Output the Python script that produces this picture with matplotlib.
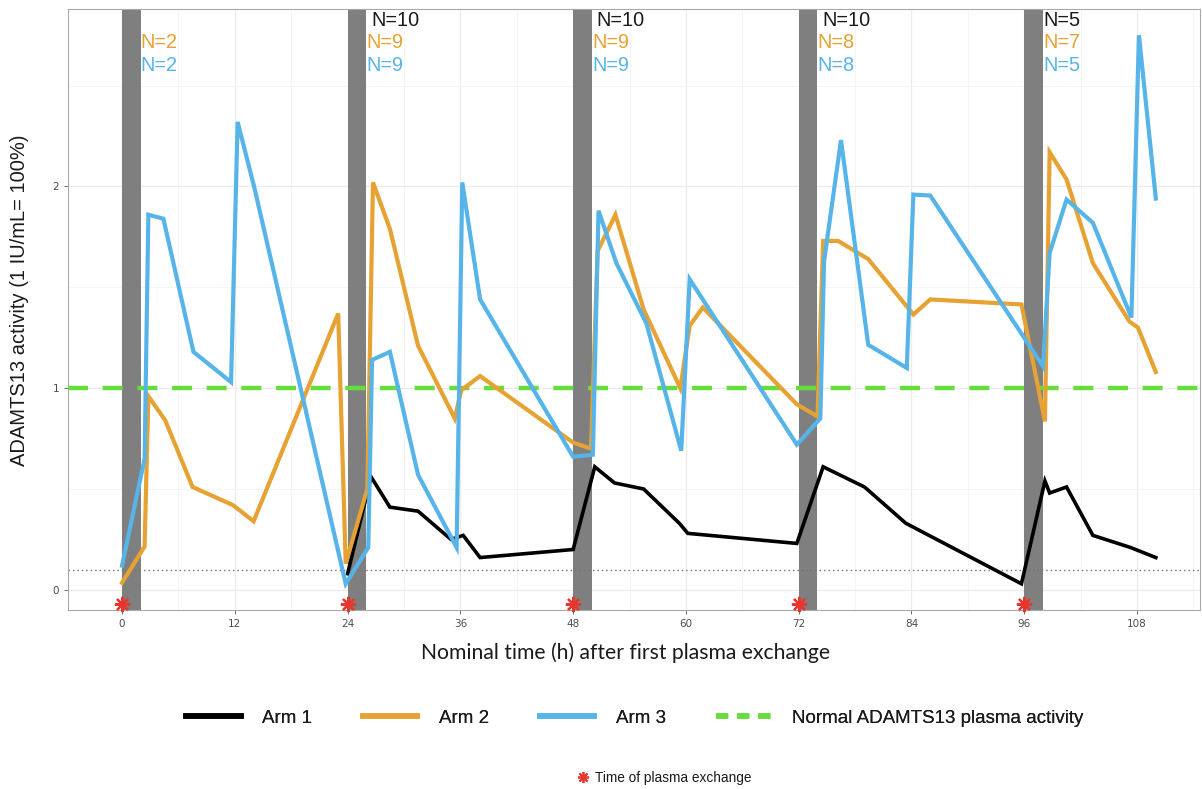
import matplotlib
matplotlib.use("Agg")  # no display
import matplotlib.pyplot as plt
from matplotlib.lines import Line2D

# colours
ARM_COLORS = {"arm1": "#000000", "arm2": "#E6A232", "arm3": "#56B4E9"}
GREEN = "#66DD3C"
RED = "#E8362C"
BAR_GREY = "#7F7F7F"

# plasma exchange times (h)
pe_times = [0, 24, 48, 72, 96]
pe_marker_y = [-0.07, -0.07, -0.07, -0.07, -0.07]

# Arm 1
arm1_t = [24, 26.5, 28.5, 31.5, 35, 36.3, 38.1, 48, 50.3, 52.4, 55.5, 59.3, 60.2,
          71.8, 74.6, 79, 83.4, 95.7, 98.2, 98.7, 100.5, 103.3, 107.3, 110]
arm1_v = [0.08, 0.56, 0.41, 0.39, 0.25, 0.27, 0.16, 0.20, 0.61, 0.53, 0.50, 0.33, 0.28,
          0.23, 0.61, 0.51, 0.33, 0.03, 0.54, 0.48, 0.51, 0.27, 0.21, 0.16]

# Arm 2
arm2_t = [0, 2.4, 2.8, 4.6, 7.5, 11.8, 14, 23, 23.8, 26.1, 26.7, 28.5, 31.5, 35.4,
          36.1, 38.1, 48, 49.9, 50.6, 52.5, 55.5, 59.4, 60.4, 61.8, 71.8, 74, 74.6,
          76.2, 79.4, 84.2, 86, 95.7, 98.2, 98.7, 100.5, 103.3, 107.2, 108.1, 110]
arm2_v = [0.035, 0.215, 0.96, 0.84, 0.51, 0.42, 0.34, 1.37, 0.13, 0.50, 2.02, 1.79,
          1.21, 0.85, 0.99, 1.06, 0.73, 0.70, 1.68, 1.86, 1.39, 1.00, 1.31, 1.40, 0.92,
          0.86, 1.73, 1.73, 1.64, 1.365, 1.44, 1.415, 0.835, 2.17, 2.035, 1.62, 1.33,
          1.30, 1.08]

# Arm 3
arm3_t = [0, 2.4, 2.8, 4.4, 7.6, 11.6, 12.3, 14.1, 23.8, 26.2, 26.6, 28.5, 31.5, 35.6,
          36.2, 38.1, 48, 50.1, 50.7, 52.6, 55.8, 59.5, 60.4, 71.8, 74.3, 74.7, 76.5,
          79.4, 83.5, 84.2, 86, 98.0, 98.7, 100.5, 103.3, 107.4, 108.2, 110]
arm3_v = [0.12, 0.65, 1.86, 1.84, 1.18, 1.03, 2.32, 1.99, 0.03, 0.21, 1.14, 1.18, 0.57,
          0.21, 2.02, 1.44, 0.66, 0.67, 1.88, 1.62, 1.32, 0.69, 1.54, 0.72, 0.85, 1.63,
          2.23, 1.215, 1.10, 1.96, 1.955, 1.108, 1.67, 1.935, 1.82, 1.35, 2.75, 1.94]

# number of patients per cycle
n_arm1 = ["", "N=10", "N=10", "N=10", "N=5"]
n_arm2 = ["N=2", "N=9", "N=9", "N=8", "N=7"]
n_arm3 = ["N=2", "N=9", "N=9", "N=8", "N=5"]

NORMAL_LEVEL = 1.0
LLOQ = 0.1

W, H = 1202, 789
fig = plt.figure(figsize=(W / 100, H / 100), dpi=100)
ax = fig.add_axes([68 / W, 1 - 610 / H, (1200 - 68) / W, (610 - 9) / H])
ax.set_xlim(-5.75, 114.7)
ax.set_ylim(-0.1, 2.88)

# plasma exchange bars
for t in pe_times:
    ax.axvspan(t, t + 2, color=BAR_GREY, lw=0, zorder=1)

ax.axhline(LLOQ, color="#707070", ls=(0, (1, 2.2)), lw=1.0, zorder=2)
ax.axhline(NORMAL_LEVEL, color=GREEN, ls=(0, (4.5, 3.3)), lw=3.2, zorder=3)

ax.plot(arm1_t, arm1_v, color=ARM_COLORS["arm1"], lw=2.6, zorder=4, solid_joinstyle="miter")
ax.plot(arm2_t, arm2_v, color=ARM_COLORS["arm2"], lw=3.0, zorder=5, solid_joinstyle="miter")
ax.plot(arm3_t, arm3_v, color=ARM_COLORS["arm3"], lw=3.0, zorder=6, solid_joinstyle="miter")

ax.plot(pe_times, pe_marker_y, ls="none", marker=(8, 2, 0), color=RED, ms=11,
        mew=1.6, clip_on=False, zorder=7)

# N labels
for t, a, b, c in zip(pe_times, n_arm1, n_arm2, n_arm3):
    dx = 0.5 if len(a) > 3 else 0.0
    ax.text(t + 2 + dx, 2.825, a, color="#1A1A1A", fontsize=14.3, va="center", ha="left",
            family="Liberation Sans")
    ax.text(t + 2, 2.712, b, color=ARM_COLORS["arm2"], fontsize=14.3, va="center", ha="left",
            family="Liberation Sans")
    ax.text(t + 2, 2.602, c, color=ARM_COLORS["arm3"], fontsize=14.3, va="center", ha="left",
            family="Liberation Sans")

# axes styling
ax.set_xticks(range(0, 109, 12))
ax.set_xticks(range(6, 115, 12), minor=True)
ax.set_yticks([0, 1, 2])
ax.set_yticks([0.5, 1.5, 2.5], minor=True)
ax.grid(which="major", color="#EBEBEB", lw=0.9)
ax.grid(which="minor", color="#F4F4F4", lw=0.6)
ax.set_axisbelow(True)
ax.tick_params(which="major", labelsize=7.5, labelcolor="#4D4D4D", color="#555555",
               length=3, width=0.6)
ax.tick_params(which="minor", length=0)
for s in ax.spines.values():
    s.set_color("#A8A8A8")
    s.set_linewidth(0.8)

fig.text(20 / W, 1 - 300 / H, "ADAMTS13 activity (1 IU/mL= 100%)", rotation=90,
         ha="center", va="center", fontsize=14.5, family="Liberation Sans", color="#1A1A1A")
fig.text(626 / W, 1 - 653 / H, "Nominal time (h) after first plasma exchange",
         ha="center", va="center", fontsize=15.2, family="Lato", color="#1A1A1A")

handles = [Line2D([], [], color=ARM_COLORS["arm1"], lw=4),
           Line2D([], [], color=ARM_COLORS["arm2"], lw=4),
           Line2D([], [], color=ARM_COLORS["arm3"], lw=4),
           Line2D([], [], color=GREEN, lw=4, ls=(0, (2.2, 1.6)))]
labels = ["Arm 1", "Arm 2", "Arm 3", "Normal ADAMTS13 plasma activity"]
leg1 = fig.legend(handles, labels, loc="center", bbox_to_anchor=(635 / W, 1 - 718 / H),
                  ncol=4, frameon=False,
                  prop={"family": "Liberation Sans", "size": 13.5, "weight": "normal"},
                  handlelength=2.9, handletextpad=1.15, columnspacing=2.7)
for txt in leg1.get_texts():
    txt.set_color("#1A1A1A")
fig.add_artist(leg1)
leg2 = fig.legend([Line2D([], [], ls="none", marker=(8, 2, 0), color=RED, ms=8, mew=1.3)],
                  ["Time of plasma exchange"], loc="center",
                  bbox_to_anchor=(664 / W, 1 - 778 / H), frameon=False,
                  prop={"family": "Liberation Sans", "size": 9.8, "weight": "normal"},
                  handlelength=1.0, handletextpad=0.4)
for txt in leg2.get_texts():
    txt.set_color("#1A1A1A")

fig.savefig("out.png", dpi=100, facecolor="white")
